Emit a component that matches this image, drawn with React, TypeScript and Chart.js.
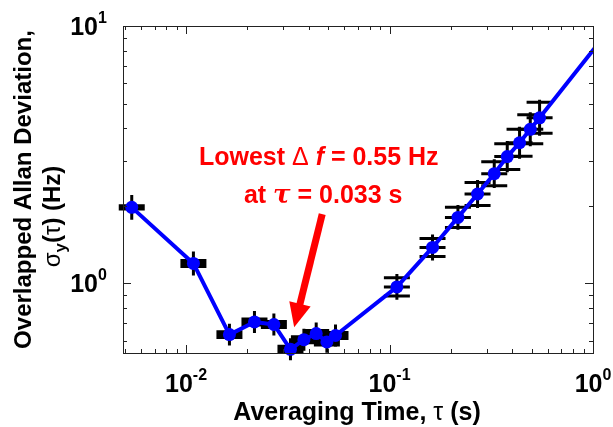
import React, { useEffect, useRef } from "react";
import { Chart, registerables } from "chart.js";

Chart.register(...registerables);

// ---- data ----
const tau = [0.00541, 0.01087, 0.01634, 0.02169, 0.02702, 0.0326, 0.03795, 0.04362, 0.04923, 0.05427,
  0.1087, 0.1627, 0.2169, 0.2708, 0.3271, 0.379, 0.4356, 0.4917, 0.5464];
const adev = [1.975, 1.196, 0.633, 0.709, 0.693, 0.555, 0.605, 0.639, 0.593, 0.628,
  0.97, 1.38, 1.806, 2.226, 2.67, 3.11, 3.52, 3.97, 4.4];
// error caps (percent) and error bar vertical extent (percent)
const capPct = [1.4, 2.7, 2.7, 2.7, 2.7, 2.7, 2.7, 2.7, 2.7, 2.7,
  8.4, 8.4, 9.4, 10.8, 11.3, 12.3, 12.8, 13.8, 14.9];
const barPct = [11.8, 11.3, 10.3, 10.3, 10.3, 10.3, 10.3, 10.3, 10.3, 10.3,
  12.3, 12.3, 11.8, 13.4, 13.8, 14.9, 15.4, 16.4, 17.5];
// line continues past the right edge
const tailTau = [1.1];
const tailDev = [8.85];

const xMin = 0.0049;
const xMax = 1;
const yMin = 0.537;
const yMax = 10;
const xMajor = [0.01, 0.1, 1];
const xMajorExp = ["-2", "-1", "0"];
const xMinor = [0.005, 0.006, 0.007, 0.008, 0.009, 0.02, 0.03, 0.04, 0.05, 0.06, 0.07, 0.08, 0.09,
  0.2, 0.3, 0.4, 0.5, 0.6, 0.7, 0.8, 0.9];
const yMajor = [1, 10];
const yMajorExp = ["0", "1"];
const yMinor = [0.6, 0.7, 0.8, 0.9, 2, 3, 4, 5, 6, 7, 8, 9];

const xTitle = ["Averaging Time, ", "τ", " (s)"];
const yTitle1 = "Overlapped Allan Deviation,";
const annot1 = ["Lowest ", "Δ", " ", "f", " = 0.55 Hz"];
const annot2 = ["at ", "τ", " = 0.033 s"];
// annotation anchors in data coordinates
const annotPos = { line1: [0.0449, 2.88], line2: [0.0472, 2.05], arrowFrom: [0.0467, 1.86], arrowTo: [0.034, 0.676] };

const SANS = '"Liberation Sans", Arial, sans-serif';
const B24 = `bold 24px ${SANS}`;
const R24 = `24px ${SANS}`;
const B25 = `bold 25px ${SANS}`;
const R25 = `25px ${SANS}`;

type Piece = { t: string; font: string; dy?: number };

function drawPieces(ctx: CanvasRenderingContext2D, pieces: Piece[], x: number, y: number, align: "center" | "right" | "left") {
  let w = 0;
  for (const p of pieces) { ctx.font = p.font; w += ctx.measureText(p.t).width; }
  let cx = align === "center" ? x - w / 2 : align === "right" ? x - w : x;
  ctx.textAlign = "left";
  ctx.textBaseline = "alphabetic";
  for (const p of pieces) {
    ctx.font = p.font;
    ctx.fillText(p.t, cx, y + (p.dy || 0));
    cx += ctx.measureText(p.t).width;
  }
  return w;
}

const errorBarsPlugin = {
  id: "errorBars",
  beforeDatasetsDraw(chart: any) {
    const { ctx, chartArea } = chart;
    const x = chart.scales.x;
    const y = chart.scales.y;
    ctx.save();
    ctx.beginPath();
    ctx.rect(0, 0, chartArea.right, chart.height);
    ctx.clip();
    ctx.strokeStyle = "#000";
    ctx.lineWidth = 3;
    ctx.lineCap = "butt";
    tau.forEach((t, i) => {
      const px = x.getPixelForValue(t);
      const v = adev[i];
      const c = 1 + capPct[i] / 100;
      const b = 1 + barPct[i] / 100;
      const py = y.getPixelForValue(v);
      const cHi = y.getPixelForValue(v * c);
      const cLo = y.getPixelForValue(v / c);
      const bHi = y.getPixelForValue(v * b);
      const bLo = y.getPixelForValue(v / b);
      ctx.beginPath();
      ctx.moveTo(px, bHi);
      ctx.lineTo(px, bLo);
      for (const yy of [cHi, py, cLo]) {
        ctx.moveTo(px - 13, yy);
        ctx.lineTo(px + 13, yy);
      }
      ctx.stroke();
    });
    ctx.restore();
  },
};

const framePlugin = {
  id: "frame",
  afterDatasetsDraw(chart: any) {
    const { ctx, chartArea } = chart;
    const x = chart.scales.x;
    const y = chart.scales.y;
    const { left, right, top, bottom } = chartArea;
    ctx.save();
    // box
    ctx.strokeStyle = "#222";
    ctx.lineWidth = 1;
    ctx.strokeRect(Math.round(left) + 0.5, Math.round(top) + 0.5, Math.round(right - left), Math.round(bottom - top));
    // ticks
    ctx.beginPath();
    const xt = (v: number, len: number) => {
      const px = Math.round(x.getPixelForValue(v)) + 0.5;
      ctx.moveTo(px, bottom); ctx.lineTo(px, bottom - len);
      ctx.moveTo(px, top); ctx.lineTo(px, top + len);
    };
    const yt = (v: number, len: number) => {
      const py = Math.round(y.getPixelForValue(v)) + 0.5;
      ctx.moveTo(left, py); ctx.lineTo(left + len, py);
      ctx.moveTo(right, py); ctx.lineTo(right - len, py);
    };
    xMinor.forEach((v) => xt(v, 4));
    xMajor.forEach((v) => xt(v, 8));
    yMinor.forEach((v) => yt(v, 4));
    yMajor.forEach((v) => yt(v, 8));
    ctx.stroke();

    // tick labels
    ctx.fillStyle = "#000";
    const supFont = `bold 16px ${SANS}`;
    xMajor.forEach((v, i) => {
      const px = x.getPixelForValue(v);
      drawPieces(ctx, [{ t: "10", font: B25 }, { t: xMajorExp[i], font: supFont, dy: -12 }], px, bottom + 39, "center");
    });
    yMajor.forEach((v, i) => {
      const py = y.getPixelForValue(v);
      ctx.font = B25;
      ctx.textAlign = "right";
      ctx.textBaseline = "alphabetic";
      ctx.fillText("10", left - 25, py + 9);
      ctx.font = supFont;
      ctx.textAlign = "left";
      ctx.fillText(yMajorExp[i], left - 25, py - 3);
    });

    // x title
    drawPieces(ctx, [{ t: xTitle[0], font: B25 }, { t: xTitle[1], font: R25 }, { t: xTitle[2], font: B25 }],
      (left + right) / 2 - 1, 420, "center");

    // y title (rotated)
    const cy = (top + bottom) / 2;
    ctx.save();
    ctx.translate(31, cy);
    ctx.rotate(-Math.PI / 2);
    drawPieces(ctx, [{ t: yTitle1, font: B24 }], 0, 0, "center");
    ctx.restore();
    ctx.save();
    ctx.translate(60, cy + 27);
    ctx.rotate(-Math.PI / 2);
    drawPieces(ctx, [
      { t: "σ", font: R24 },
      { t: "y", font: `bold 17px ${SANS}`, dy: 6 },
      { t: "(", font: B24 },
      { t: "τ", font: R24 },
      { t: ")", font: B24 },
      { t: " (Hz)", font: B24 },
    ], 0, 0, "center");
    ctx.restore();

    // annotation
    ctx.fillStyle = "#FF0000";
    const ital = `italic bold 25px ${SANS}`;
    const serifItal = `italic bold 26px "DejaVu Serif", serif`;
    drawPieces(ctx, [
      { t: annot1[0], font: B25 }, { t: annot1[1], font: R25 }, { t: annot1[2], font: B25 },
      { t: annot1[3], font: ital }, { t: annot1[4], font: B25 },
    ], x.getPixelForValue(annotPos.line1[0]), y.getPixelForValue(annotPos.line1[1]), "center");
    drawPieces(ctx, [
      { t: annot2[0], font: B25 }, { t: annot2[1], font: serifItal }, { t: annot2[2], font: B25 },
    ], x.getPixelForValue(annotPos.line2[0]), y.getPixelForValue(annotPos.line2[1]), "center");

    // arrow
    const ax0 = x.getPixelForValue(annotPos.arrowFrom[0]);
    const ay0 = y.getPixelForValue(annotPos.arrowFrom[1]);
    const ax1 = x.getPixelForValue(annotPos.arrowTo[0]);
    const ay1 = y.getPixelForValue(annotPos.arrowTo[1]);
    const ang = Math.atan2(ay1 - ay0, ax1 - ax0);
    const headLen = 24;
    const headHalf = 11;
    const bx = ax1 - headLen * Math.cos(ang);
    const by = ay1 - headLen * Math.sin(ang);
    ctx.strokeStyle = "#FF0000";
    ctx.lineWidth = 7;
    ctx.lineCap = "butt";
    ctx.beginPath();
    ctx.moveTo(ax0, ay0);
    ctx.lineTo(bx + 2 * Math.cos(ang), by + 2 * Math.sin(ang));
    ctx.stroke();
    ctx.beginPath();
    ctx.moveTo(ax1, ay1);
    ctx.lineTo(bx + headHalf * Math.sin(ang), by - headHalf * Math.cos(ang));
    ctx.lineTo(bx - headHalf * Math.sin(ang), by + headHalf * Math.cos(ang));
    ctx.closePath();
    ctx.fillStyle = "#FF0000";
    ctx.fill();
    ctx.restore();
  },
};

export default function App() {
  const ref = useRef<HTMLCanvasElement | null>(null);
  useEffect(() => {
    if (!ref.current) return;
    const points = tau.map((t, i) => ({ x: t, y: adev[i] }));
    tailTau.forEach((t, i) => points.push({ x: t, y: tailDev[i] }));
    const chart = new Chart(ref.current, {
      type: "scatter",
      data: {
        datasets: [
          {
            data: points,
            showLine: true,
            borderColor: "#0000FF",
            backgroundColor: "#0000FF",
            borderWidth: 4,
            borderJoinStyle: "round",
            pointRadius: (c: any) => (c.dataIndex < tau.length ? 6.5 : 0),
            pointHoverRadius: 0,
            pointBorderWidth: 0,
            pointBackgroundColor: "#0000FF",
            clip: { left: 20, top: 20, right: 0, bottom: 20 },
          } as any,
        ],
      },
      options: {
        animation: false,
        responsive: false,
        devicePixelRatio: 1,
        events: [],
        layout: { padding: { top: 26, right: 20, left: 0, bottom: 0 } },
        plugins: { legend: { display: false }, tooltip: { enabled: false } },
        scales: {
          x: {
            type: "logarithmic",
            min: xMin,
            max: xMax,
            ticks: { display: false },
            grid: { display: false },
            border: { display: false },
            afterFit: (s: any) => { s.height = 74; },
          },
          y: {
            type: "logarithmic",
            min: yMin,
            max: yMax,
            ticks: { display: false },
            grid: { display: false },
            border: { display: false },
            afterFit: (s: any) => { s.width = 123; },
          },
        },
      },
      plugins: [errorBarsPlugin, framePlugin],
    });
    return () => chart.destroy();
  }, []);
  return (
    <div style={{ position: "absolute", left: 0, top: 0, width: 613, height: 427, background: "#fff" }}>
      <canvas ref={ref} width={613} height={427} style={{ display: "block" }} />
    </div>
  );
}
